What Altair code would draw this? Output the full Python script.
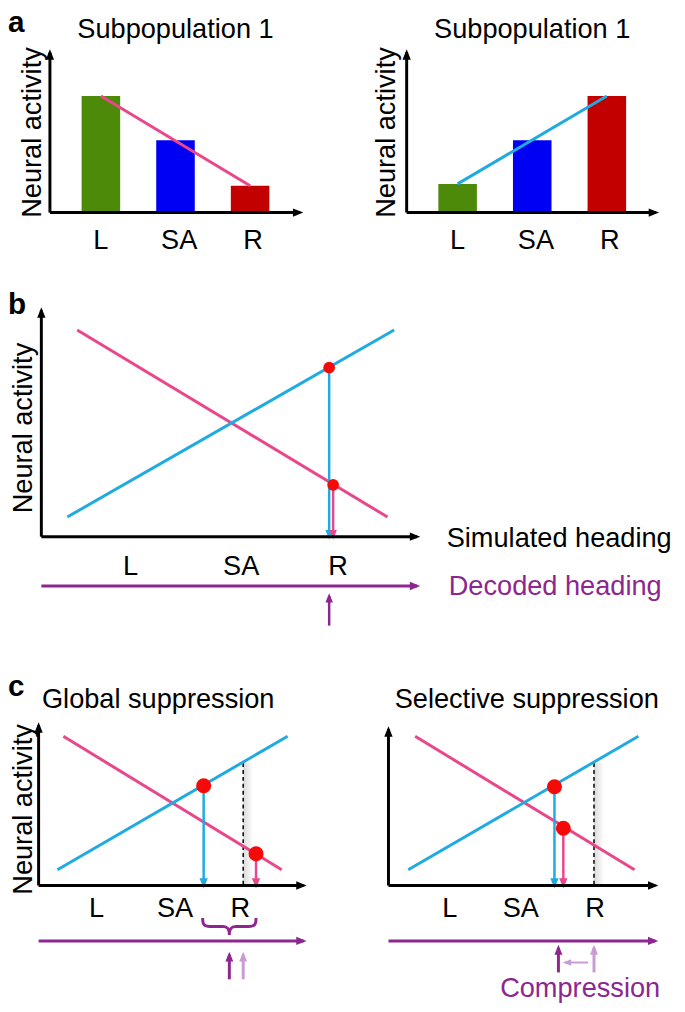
import altair as alt
import pandas as pd

# ------------------------------------------------------------------ data
headings = ["L", "SA", "R"]
heading_values = [-1.0, 0.0, 1.0]          # L, straight ahead, R

# panel a: neural activity of each subpopulation (top of y axis = 1)
a1_activity = [0.728, 0.451, 0.167]
a2_activity = [0.179, 0.451, 0.728]
a_label_h = [-1.0, 0.05, 1.04]

# panel b: tuning lines (heading, activity) and read-out points
b_pink_h, b_pink_a = [-1.602, 1.602], [0.913, 0.087]
b_cyan_h, b_cyan_a = [-1.704, 1.671], [0.087, 0.913]
b_dot_h, b_dot_a = [1.0, 1.041], [0.747, 0.229]
b_label_h = [-1.051, 0.092, 1.092]
b_decoded_h = 1.0

# panel c, global suppression
cg_pink_h, cg_pink_a = [-1.493, 1.534], [0.932, 0.099]
cg_cyan_h, cg_cyan_a = [-1.575, 1.616], [0.099, 0.932]
cg_dot_h, cg_dot_a = [0.452, 1.178], [0.623, 0.198]
cg_label_h = [-1.034, 0.055, 0.959]
cg_decoded_h = [0.808, 1.0]
cg_brace_h = [0.438, 1.178]

# panel c, selective suppression
cs_pink_h, cs_pink_a = [-1.479, 1.562], [0.932, 0.099]
cs_cyan_h, cs_cyan_a = [-1.575, 1.616], [0.099, 0.932]
cs_dot_h, cs_dot_a = [0.452, 0.575], [0.617, 0.358]
cs_label_h = [-1.0, -0.014, 1.014]
cs_decoded_h = [0.507, 1.0]
cs_shift_h = [0.918, 0.603]

r_line_top = 0.765   # activity of cyan line at R (dashed reference)

# ------------------------------------------------------------------ style
FONT = "Liberation Sans"
FS = 27.5
BLACK = "#000000"
PINK = "#EA468C"
CYAN = "#1FAAE2"
DOT = "#F50A0A"
PURPLE = "#8D268F"
LAVENDER = "#C89CD2"
BAR_COLORS = ["#4D8A0A", "#0000F2", "#C20000"]

# scale anchors for each panel (chart pixels of heading -1 / +1, activity 0 / 1)
LAYOUT = {
    "a1": dict(xr=[89, 250], yr=[201, 39], ax=(-1.683, 1.671), ytop=1.0),
    "a2": dict(xr=[450, 611], yr=[201, 39], ax=(-1.683, 1.658), ytop=1.0),
    "b": dict(xr=[129, 325], yr=[529, 300], ax=(-1.972, 1.908), ytop=1.0),
    "cg": dict(xr=[92, 238], yr=[882, 720], ax=(-1.836, 1.836), ytop=1.0),
    "cs": dict(xr=[447, 593], yr=[882, 720], ax=(-1.849, 1.849), ytop=0.975),
}

TIP_RIGHT = "M0.6,0L-1.4,-0.8L-1.4,0.8Z"
TIP_LEFT = "M-0.6,0L1.4,-0.8L1.4,0.8Z"
TIP_UP = "M0,-0.6L-0.8,1.4L0.8,1.4Z"
TIP_DOWN = "M0,0.6L-0.8,-1.4L0.8,-1.4Z"
BRACE = ("M-1,-0.32C-1,-0.06 -0.94,0 -0.72,0L-0.24,0C-0.05,0 0,0.1 0,0.32"
         "C0,0.1 0.05,0 0.24,0L0.72,0C0.94,0 1,-0.06 1,-0.32")


def scales(key):
    c = LAYOUT[key]
    xs = alt.Scale(domain=[-1, 1], range=c["xr"], nice=False, zero=False)
    ys = alt.Scale(domain=[0, 1], range=c["yr"], nice=False, zero=False)
    return xs, ys


def xy(xs, ys):
    return dict(x=alt.X("h:Q", scale=xs, axis=None),
                y=alt.Y("a:Q", scale=ys, axis=None))


def rules(rows, xs, ys, color, width=3.0, dash=None):
    df = pd.DataFrame(rows, columns=["h", "a", "h2", "a2"])
    kw = dict(color=color, strokeWidth=width)
    if dash:
        kw["strokeDash"] = dash
    return alt.Chart(df).mark_rule(**kw).encode(
        **xy(xs, ys), x2="h2:Q", y2="a2:Q")


def heads(rows, xs, ys, color, shape, size=100):
    df = pd.DataFrame(rows, columns=["h", "a"])
    return alt.Chart(df).mark_point(
        shape=shape, filled=True, opacity=1, color=color, size=size,
        strokeWidth=0).encode(**xy(xs, ys))


def texts(rows, xs, ys, color=BLACK, align="center", baseline="alphabetic",
          angle=0, size=FS):
    df = pd.DataFrame(rows, columns=["h", "a", "t"])
    return alt.Chart(df).mark_text(
        font=FONT, fontSize=size, color=color, align=align,
        baseline=baseline, angle=angle).encode(**xy(xs, ys), text="t:N")


def dots(hs, as_, xs, ys, size):
    df = pd.DataFrame({"h": hs, "a": as_})
    return alt.Chart(df).mark_circle(size=size, color=DOT, opacity=1).encode(
        **xy(xs, ys))


def axes(key, xs, ys):
    x0, x1 = LAYOUT[key]["ax"]
    top = LAYOUT[key]["ytop"]
    return [
        rules([(x0, 0, x1, 0), (x0, 0, x0, top)], xs, ys, BLACK, 3),
        heads([(x1, 0)], xs, ys, BLACK, TIP_RIGHT, 110),
        heads([(x0, top)], xs, ys, BLACK, TIP_UP, 110),
    ]


def ylabel(h, a, xs, ys):
    return texts([(h, a, "Neural activity")], xs, ys, baseline="middle",
                 angle=270)


# ------------------------------------------------------------------ panel a
def panel_a(key, activity, line_color, ylab_h):
    xs, ys = scales(key)
    df = pd.DataFrame({"h": heading_values, "a": activity, "cat": headings})
    bars = alt.Chart(df).mark_bar(size=39).encode(
        **xy(xs, ys), y2=alt.datum(0),
        color=alt.Color("cat:N", scale=alt.Scale(domain=headings,
                                                 range=BAR_COLORS),
                        legend=None))
    line = rules([(heading_values[0], activity[0],
                   heading_values[2], activity[2])], xs, ys, line_color, 3)
    labels = texts([(h, -0.228, t) for h, t in zip(a_label_h, headings)],
                   xs, ys)
    title = texts([(0.0, 1.093, "Subpopulation 1")], xs, ys)
    return alt.layer(bars, line, *axes(key, xs, ys), labels, title,
                     ylabel(ylab_h, 0.5, xs, ys))


# ------------------------------------------------------------------ panel b
def panel_b():
    xs, ys = scales("b")
    layers = [
        rules([(b_pink_h[0], b_pink_a[0], b_pink_h[1], b_pink_a[1])],
              xs, ys, PINK, 3),
        rules([(b_cyan_h[0], b_cyan_a[0], b_cyan_h[1], b_cyan_a[1])],
              xs, ys, CYAN, 3),
        rules([(b_dot_h[0], b_dot_a[0], b_dot_h[0], 0)], xs, ys, CYAN, 2.5),
        heads([(b_dot_h[0], 0)], xs, ys, CYAN, TIP_DOWN, 90),
        rules([(b_dot_h[1], b_dot_a[1], b_dot_h[1], 0)], xs, ys, PINK, 2.5),
        heads([(b_dot_h[1], 0)], xs, ys, PINK, TIP_DOWN, 90),
        dots(b_dot_h, b_dot_a, xs, ys, 140),
        *axes("b", xs, ys),
        rules([(-1.972, -0.218, 1.908, -0.218)], xs, ys, PURPLE, 3),
        heads([(1.908, -0.218)], xs, ys, PURPLE, TIP_RIGHT, 110),
        rules([(b_decoded_h, -0.393, b_decoded_h, -0.262)], xs, ys,
              PURPLE, 2.5),
        heads([(b_decoded_h, -0.262)], xs, ys, PURPLE, TIP_UP, 90),
        texts([(h, -0.170, t) for h, t in zip(b_label_h, headings)], xs, ys),
        texts([(2.214, -0.044, "Simulated heading")], xs, ys, align="left"),
        texts([(2.235, -0.258, "Decoded heading")], xs, ys, align="left",
              color=PURPLE),
        ylabel(-2.153, 0.48, xs, ys),
    ]
    return alt.layer(*layers)


# ------------------------------------------------------------------ panel c
def shadow(xs, ys):
    df = pd.DataFrame({"h": [1.0], "a": [r_line_top]})
    grad = alt.Gradient(gradient="linear", x1=0, x2=1, y1=0, y2=0,
                        stops=[alt.GradientStop(color="#d9d9d9", offset=0),
                               alt.GradientStop(color="#ffffff", offset=1)])
    return alt.Chart(df).mark_rect(color=grad, x2Offset=10).encode(
        **xy(xs, ys), x2="h:Q", y2=alt.datum(0))


def panel_c(key, pink, cyan, dot_h, dot_a, label_h, decoded_h, title):
    xs, ys = scales(key)
    x0, x1 = LAYOUT[key]["ax"]
    layers = [
        shadow(xs, ys),
        rules([(1.0, r_line_top, 1.0, 0)], xs, ys, BLACK, 1.5, [4, 3]),
        rules([(pink[0][0], pink[1][0], pink[0][1], pink[1][1])],
              xs, ys, PINK, 3),
        rules([(cyan[0][0], cyan[1][0], cyan[0][1], cyan[1][1])],
              xs, ys, CYAN, 3),
        rules([(dot_h[0], dot_a[0], dot_h[0], 0)], xs, ys, CYAN, 2.5),
        heads([(dot_h[0], 0)], xs, ys, CYAN, TIP_DOWN, 110),
        rules([(dot_h[1], dot_a[1], dot_h[1], 0)], xs, ys, PINK, 2.5),
        heads([(dot_h[1], 0)], xs, ys, PINK, TIP_DOWN, 110),
        dots(dot_h, dot_a, xs, ys, 230),
        *axes(key, xs, ys),
        rules([(x0, -0.346, x1, -0.346)], xs, ys, PURPLE, 3),
        heads([(x1, -0.346)], xs, ys, PURPLE, TIP_RIGHT, 110),
        texts([(h, -0.198, t) for h, t in zip(label_h, headings)], xs, ys),
        texts([(title[0], 1.111, title[1])], xs, ys),
    ]
    return xs, ys, layers


def panel_cg():
    xs, ys, layers = panel_c(
        "cg", (cg_pink_h, cg_pink_a), (cg_cyan_h, cg_cyan_a), cg_dot_h,
        cg_dot_a, cg_label_h, cg_decoded_h, (-0.178, "Global suppression"))
    mid = (cg_brace_h[0] + cg_brace_h[1]) / 2
    brace = alt.Chart(pd.DataFrame({"h": [mid], "a": [-0.256]})).mark_point(
        shape=BRACE, filled=False, opacity=1, color=PURPLE, strokeWidth=3,
        size=((cg_brace_h[1] - cg_brace_h[0]) * 73) ** 2).encode(**xy(xs, ys))
    layers += [
        brace,
        rules([(cg_decoded_h[0], -0.586, cg_decoded_h[0], -0.432)], xs, ys,
              PURPLE, 3),
        heads([(cg_decoded_h[0], -0.432)], xs, ys, PURPLE, TIP_UP, 100),
        rules([(cg_decoded_h[1], -0.586, cg_decoded_h[1], -0.432)], xs, ys,
              LAVENDER, 3),
        heads([(cg_decoded_h[1], -0.432)], xs, ys, LAVENDER, TIP_UP, 100),
        ylabel(-2.041, 0.475, xs, ys),
    ]
    return alt.layer(*layers)


def panel_cs():
    xs, ys, layers = panel_c(
        "cs", (cs_pink_h, cs_pink_a), (cs_cyan_h, cs_cyan_a), cs_dot_h,
        cs_dot_a, cs_label_h, cs_decoded_h, (0.068, "Selective suppression"))
    layers += [
        rules([(cs_decoded_h[0], -0.543, cs_decoded_h[0], -0.389)], xs, ys,
              PURPLE, 3),
        heads([(cs_decoded_h[0], -0.389)], xs, ys, PURPLE, TIP_UP, 100),
        rules([(cs_decoded_h[1], -0.543, cs_decoded_h[1], -0.389)], xs, ys,
              LAVENDER, 3),
        heads([(cs_decoded_h[1], -0.389)], xs, ys, LAVENDER, TIP_UP, 100),
        rules([(cs_shift_h[0], -0.481, cs_shift_h[1], -0.481)], xs, ys,
              LAVENDER, 2),
        heads([(cs_shift_h[1], -0.481)], xs, ys, LAVENDER, TIP_LEFT, 70),
        texts([(0.808, -0.698, "Compression")], xs, ys, color=PURPLE),
    ]
    return alt.layer(*layers)


# ------------------------------------------------------------------ letters
def letter(t, x, y):
    return alt.Chart(pd.DataFrame({"t": [t]})).mark_text(
        font=FONT, fontSize=30, fontWeight="bold", align="left",
        baseline="alphabetic", color=BLACK).encode(
        x=alt.value(x), y=alt.value(y), text="t:N")


chart = alt.layer(
    panel_a("a1", a1_activity, PINK, -1.907),
    panel_a("a2", a2_activity, CYAN, -1.944),
    panel_b(),
    panel_cg(),
    panel_cs(),
    letter("a", 0, 18),
    letter("b", 0, 304),
    letter("c", 0, 690),
).resolve_scale(x="independent", y="independent").properties(
    width=677, height=1004, padding=0,
    autosize=alt.AutoSizeParams(type="none"),
    background="white",
).configure_view(stroke=None)

chart.save("out.html", embed_options={"renderer": "svg", "actions": False})
